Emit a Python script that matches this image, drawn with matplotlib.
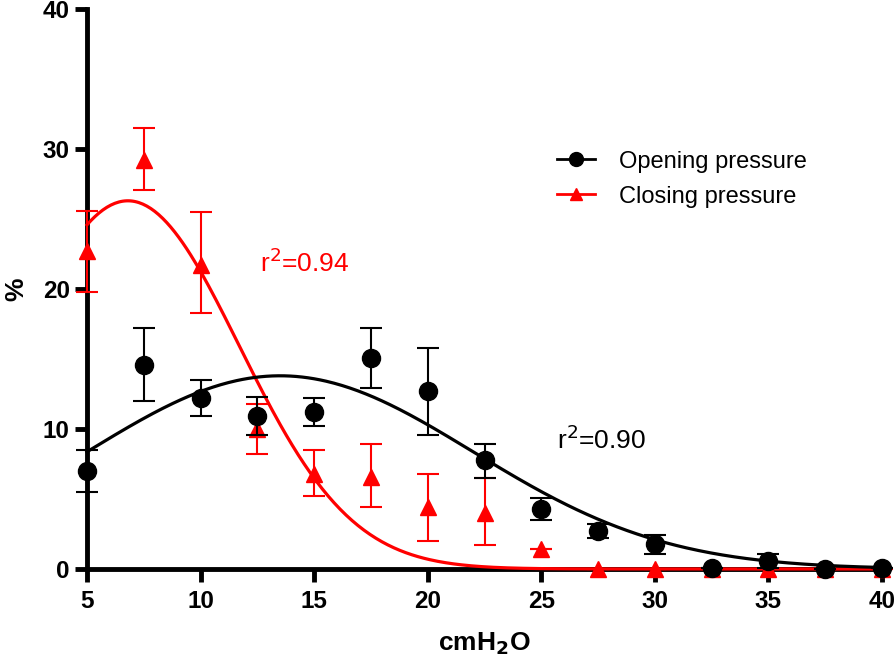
import numpy as np
import matplotlib
matplotlib.use("Agg")
import matplotlib.pyplot as plt

plt.rcParams['font.family'] = ['Liberation Sans', 'DejaVu Sans']

# pressure steps (cmH2O)
pressure = [5, 7.5, 10, 12.5, 15, 17.5, 20, 22.5, 25, 27.5, 30, 32.5, 35, 37.5, 40]

# opening pressure: mean and error bar ends (%)
open_mean = [7.0, 14.6, 12.2, 10.9, 11.2, 15.1, 12.7, 7.8, 4.3, 2.7, 1.8, 0.1, 0.6, 0.0, 0.1]
open_hi = [8.5, 17.2, 13.5, 12.3, 12.2, 17.2, 15.8, 8.9, 5.1, 3.2, 2.4, 0.1, 1.1, 0.0, 0.1]
open_lo = [5.5, 12.0, 10.9, 9.6, 10.2, 12.9, 9.6, 6.5, 3.5, 2.2, 1.1, 0.1, 0.1, 0.0, 0.1]

# closing pressure
close_mean = [22.7, 29.2, 21.7, 10.0, 6.8, 6.6, 4.4, 4.0, 1.4, 0.0, 0.0, 0.0, 0.0, 0.0, 0.0]
close_hi = [25.6, 31.5, 25.5, 11.8, 8.5, 8.9, 6.8, 6.5, 1.4, 0.0, 0.0, 0.0, 0.0, 0.0, 0.0]
close_lo = [19.8, 27.1, 18.3, 8.2, 5.2, 4.4, 2.0, 1.7, 1.4, 0.0, 0.0, 0.0, 0.0, 0.0, 0.0]

# gaussian fit parameters (amplitude, centre, sd)
open_fit = (13.8, 13.5, 8.5)
close_fit = (26.3, 6.8, 4.9)

RED = '#ff0000'


def gauss(x, a, mu, sd):
    return a * np.exp(-(x - mu) ** 2 / (2 * sd ** 2))


fig = plt.figure(figsize=(8.96, 6.58), dpi=100)
ax = fig.add_axes([0.0971, 0.1353, 0.8873, 0.851])

xs = np.linspace(5, 40, 400)
ax.plot(xs, gauss(xs, *close_fit), color=RED, lw=2.3, zorder=3, clip_on=False)
ax.plot(xs, gauss(xs, *open_fit), color='black', lw=2.3, zorder=4, clip_on=False)

p = np.array(pressure)
cm, om = np.array(close_mean), np.array(open_mean)
cerr = [cm - np.array(close_lo), np.array(close_hi) - cm]
oerr = [om - np.array(open_lo), np.array(open_hi) - om]

ax.errorbar(p, cm, yerr=cerr, fmt='^', color=RED, ms=11, elinewidth=1.5,
            capsize=8, capthick=1.5, zorder=5, clip_on=False)
ax.errorbar(p, om, yerr=oerr, fmt='o', color='black', ms=13, elinewidth=1.5,
            capsize=8, capthick=1.5, zorder=6, clip_on=False)

# legend handles (line + marker)
h1, = ax.plot([], [], '-o', color='black', ms=10, lw=2)
h2, = ax.plot([], [], '-^', color=RED, ms=9, lw=2)
ax.legend([h1, h2], ['Opening pressure', 'Closing pressure'], loc='upper left',
          bbox_to_anchor=(0.565, 0.785), frameon=False, fontsize=17,
          handlelength=1.6, handletextpad=1.0, labelspacing=0.55)

ax.text(12.6, 21.2, r'r$^2$=0.94', color=RED, fontsize=19)
ax.text(25.7, 8.6, r'r$^2$=0.90', color='black', fontsize=19)

ax.set_xlim(5, 40)
ax.set_ylim(0, 40)
ax.set_xticks([5, 10, 15, 20, 25, 30, 35, 40])
ax.set_yticks([0, 10, 20, 30, 40])
for s in ['top', 'right']:
    ax.spines[s].set_visible(False)
for s in ['left', 'bottom']:
    ax.spines[s].set_linewidth(3.5)
ax.tick_params(width=3.5, length=9, labelsize=17.5, direction='out')
ax.tick_params(axis='x', pad=6)
for lab in ax.get_xticklabels() + ax.get_yticklabels():
    lab.set_fontweight('bold')

ax.set_xlabel(r'cmH$_\mathbf{2}$O', fontsize=19, fontweight='bold', labelpad=13)
ax.set_ylabel('%', fontsize=19, fontweight='bold', labelpad=10)

fig.savefig('out.png', dpi=100)
